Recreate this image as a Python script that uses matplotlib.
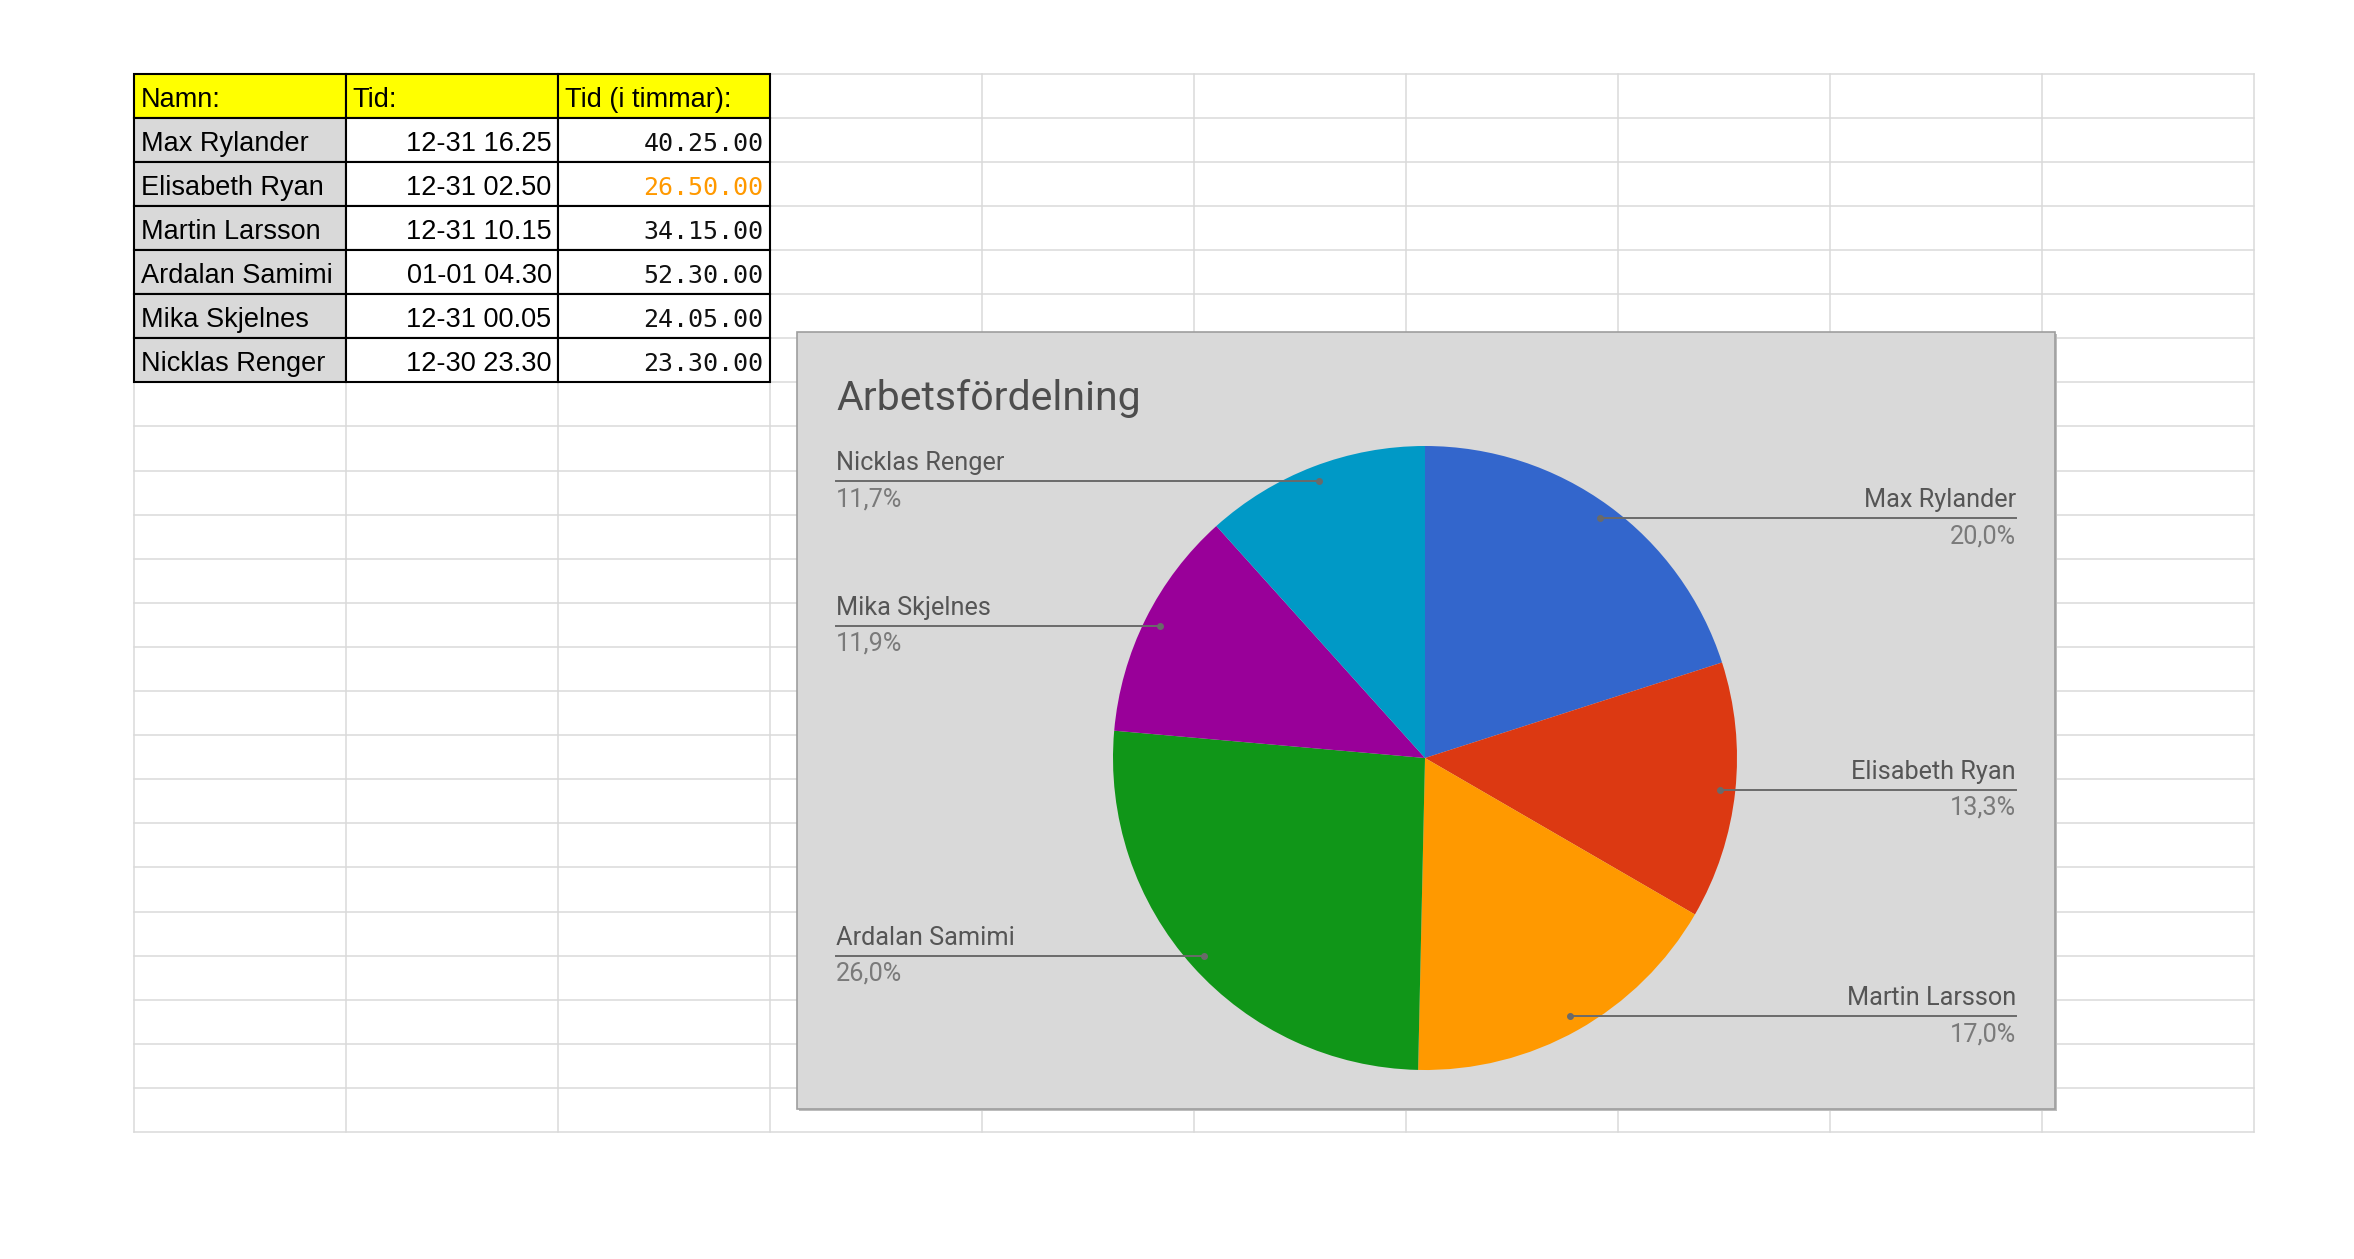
import numpy as np
import matplotlib.pyplot as plt
from matplotlib.patches import Rectangle

headers = ["Namn:", "Tid:", "Tid (i timmar):"]
names = ["Max Rylander", "Elisabeth Ryan", "Martin Larsson", "Ardalan Samimi", "Mika Skjelnes", "Nicklas Renger"]
tid = ["12-31 16.25", "12-31 02.50", "12-31 10.15", "01-01 04.30", "12-31 00.05", "12-30 23.30"]
tid_timmar = ["40.25.00", "26.50.00", "34.15.00", "52.30.00", "24.05.00", "23.30.00"]
colors = ["#3366cc", "#dc3912", "#ff9900", "#109618", "#990099", "#0099c6"]

# hours as duration (h.mm.ss)
hours = [int(t.split(".")[0]) + int(t.split(".")[1]) / 60 for t in tid_timmar]

W, H = 2354, 1259
fig = plt.figure(figsize=(W / 100, H / 100), dpi=100)
ax = fig.add_axes([0, 0, 1, 1])


def Y(py):
    return H - py


col_x = 133.6 + 212.0 * np.arange(11)
row_y = 73.6 + 44.1 * np.arange(25)

# spreadsheet grid
for x in col_x:
    ax.plot([x, x], [Y(row_y[0]), Y(row_y[-1])], color="#dadada", lw=1.1, zorder=1)
for y in row_y:
    ax.plot([col_x[0], col_x[-1]], [Y(y), Y(y)], color="#dadada", lw=1.1, zorder=1)

# table
rows = [headers] + [[n, t, tt] for n, t, tt in zip(names, tid, tid_timmar)]
for r, row in enumerate(rows):
    yc = Y((row_y[r] + row_y[r + 1]) / 2 + 4)
    for c, val in enumerate(row):
        if r == 0:
            fc = "#ffff00"
        elif c == 0:
            fc = "#d9d9d9"
        else:
            fc = "white"
        ax.add_patch(Rectangle((col_x[c], Y(row_y[r + 1])), col_x[c + 1] - col_x[c],
                               row_y[r + 1] - row_y[r], fc=fc, ec="black", lw=1.5, zorder=2))
        if r == 0 or c == 0:
            ax.text(col_x[c] + 7, yc, val, ha="left", va="center", fontsize=19.5,
                    family="Liberation Sans", zorder=3)
        elif c == 1:
            ax.text(col_x[c + 1] - 6, yc, val, ha="right", va="center", fontsize=19.5,
                    family="Liberation Sans", zorder=3)
        else:
            col = "#ff9900" if names[r - 1] == "Elisabeth Ryan" else "#111111"
            ax.text(col_x[c + 1] - 6, yc, val, ha="right", va="center", fontsize=18,
                    family="DejaVu Sans Mono", color=col, zorder=3)

# chart box
bx0, by0, bx1, by1 = 797, 332, 2055, 1109
ax.add_patch(Rectangle((bx0 + 2, Y(by1) - 2), bx1 - bx0, by1 - by0, fc="#bdbdbd", ec="none", zorder=3))
ax.add_patch(Rectangle((bx0, Y(by1)), bx1 - bx0, by1 - by0, fc="#d9d9d9", ec="#9e9e9e", lw=1.2, zorder=3.1))
ax.text(836, Y(398), "Arbetsfördelning", ha="left", va="center", fontsize=29.5,
        family="Roboto", color="#4d4d4d", zorder=5)

# pie
cx, cy, R = 1425, Y(758), 312
wedges, _ = ax.pie(hours, colors=colors, startangle=90, counterclock=False,
                   center=(cx, cy), radius=R, wedgeprops=dict(linewidth=0))
for w in wedges:
    w.set_zorder(4)

total = sum(hours)
for w, n, h in zip(wedges, names, hours):
    th = np.deg2rad((w.theta1 + w.theta2) / 2)
    dx, dy = cx + 0.95 * R * np.cos(th), cy + 0.95 * R * np.sin(th)
    pct = f"{100 * h / total:.1f}".replace(".", ",") + "%"
    if np.cos(th) > 0:
        edge, ha = 2016, "right"
    else:
        edge, ha = 836, "left"
    ax.plot([dx, edge], [dy, dy], color="#6a6a6a", lw=1.4, zorder=5)
    ax.plot(dx, dy, "o", color="#6a6a6a", ms=4, zorder=6)
    ax.text(edge, dy + 18, n, ha=ha, va="center", fontsize=18.2, family="Roboto",
            color="#555555", zorder=6)
    ax.text(edge, dy - 18, pct, ha=ha, va="center", fontsize=18.2, family="Roboto",
            color="#7a7a7a", zorder=6)

ax.set_xlim(0, W)
ax.set_ylim(0, H)
ax.set_aspect("auto")
ax.axis("off")

fig.savefig("out.png", dpi=100, facecolor="white")
